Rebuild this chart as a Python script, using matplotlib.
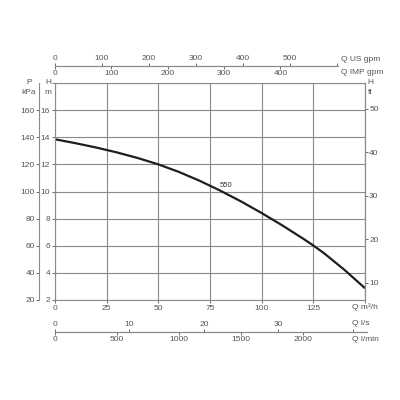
import matplotlib
matplotlib.use("Agg")
import matplotlib.pyplot as plt
import numpy as np

plt.rcParams['font.family'] = ['Liberation Sans', 'DejaVu Sans']

# kennlinie 550, Q in m3/h, H in m
q_m3h = [0, 10, 20, 30, 40, 50, 60, 70, 80, 90, 100, 110, 120, 125, 130, 140, 150]
h_m = [13.85, 13.56, 13.24, 12.88, 12.47, 12.0, 11.44, 10.79, 10.06, 9.27, 8.41, 7.50, 6.53, 6.02, 5.47, 4.23, 2.87]
curve_label = '550'

x_ticks = [0, 25, 50, 75, 100, 125]
y_ticks = [2, 4, 6, 8, 10, 12, 14, 16]
kpa_ticks = [20, 40, 60, 80, 100, 120, 140, 160]
ft_ticks = [10, 20, 30, 40, 50]
us_gpm_ticks = [0, 100, 200, 300, 400, 500, 600]
imp_gpm_ticks = [0, 100, 200, 300, 400]
ls_ticks = [0, 10, 20, 30, 40]
lmin_ticks = [0, 500, 1000, 1500, 2000]

txt = '#555555'
grid_c = '#8a8a8a'
fs = 6

fig = plt.figure(figsize=(4, 4), dpi=100)
ax = fig.add_axes([55 / 400, 100 / 400, 310 / 400, 217 / 400])

ax.plot(q_m3h, h_m, color='#1e1e1e', lw=1.6, solid_capstyle='butt', solid_joinstyle='round')
ax.text(82.7, 10.45, curve_label, fontsize=5.5, color='#333333', ha='center', va='center')

ax.set_xlim(0, 150)
ax.set_ylim(2, 18)
ax.set_xticks(x_ticks + [150])
ax.set_xticklabels([str(v) for v in x_ticks] + [''])
ax.set_yticks(y_ticks + [18])
ax.set_yticklabels([str(v) for v in y_ticks] + [''])
ax.grid(True, color=grid_c, lw=0.8)
for s in ax.spines.values():
    s.set_color(grid_c)
    s.set_linewidth(0.8)
ax.tick_params(axis='both', labelsize=fs, colors=txt, length=2, width=0.6, pad=1.5)

# Achsbeschriftungen
ax.text(-0.0226, 1.0, 'H', transform=ax.transAxes, fontsize=fs, color=txt, ha='center', va='center')
ax.text(-0.0226, 0.954, 'm', transform=ax.transAxes, fontsize=fs, color=txt, ha='center', va='center')
ax.text(-0.084, 1.0, 'P', transform=ax.transAxes, fontsize=fs, color=txt, ha='center', va='center')
ax.text(-0.084, 0.954, 'kPa', transform=ax.transAxes, fontsize=fs, color=txt, ha='center', va='center')
ax.text(1.016, 1.0, 'H', transform=ax.transAxes, fontsize=fs, color=txt, ha='center', va='center')
ax.text(1.016, 0.955, 'ft', transform=ax.transAxes, fontsize=fs, color=txt, ha='center', va='center')
ax.text(0.957, -0.031, 'Q m³/h', transform=ax.transAxes, fontsize=fs, color=txt, ha='left', va='center')
ax.text(0.957, -0.107, 'Q l/s', transform=ax.transAxes, fontsize=fs, color=txt, ha='left', va='center')
ax.text(0.957, -0.184, 'Q l/min', transform=ax.transAxes, fontsize=fs, color=txt, ha='left', va='center')
ax.text(0.9216, 1.106, 'Q US gpm', transform=ax.transAxes, fontsize=fs, color=txt, ha='left', va='center')
ax.text(0.9216, 1.0475, 'Q IMP gpm', transform=ax.transAxes, fontsize=fs, color=txt, ha='left', va='center')

# kPa links
kpa = ax.secondary_yaxis(-0.052, functions=(lambda m: m * 10, lambda p: p / 10))
kpa.set_yticks(kpa_ticks)
kpa.spines['left'].set_color(grid_c)
kpa.spines['left'].set_linewidth(0.8)
kpa.tick_params(labelsize=fs, colors=txt, length=2, width=0.6, pad=1)

# ft rechts (Skala wie im Blatt)
ft = ax.secondary_yaxis('right', functions=(lambda m: (m - 0.06) / 0.321, lambda f: 0.06 + 0.321 * f))
ft.set_yticks(ft_ticks)
ft.spines['right'].set_color(grid_c)
ft.spines['right'].set_linewidth(0.8)
ft.tick_params(labelsize=fs, colors=txt, length=2, width=0.6, pad=1)


def small_axis(loc, fwd, inv, ticks, labels, align, upto):
    sec = ax.secondary_xaxis(loc, functions=(fwd, inv))
    sec.set_alignment(align)
    sec.set_xticks(ticks, labels=labels)
    for side in ['top', 'bottom']:
        sec.spines[side].set_color(grid_c)
        sec.spines[side].set_linewidth(0.8)
        sec.spines[side].set_bounds(0, fwd(upto))
    sec.tick_params(labelsize=fs, colors=txt, length=2, width=0.6, pad=0.8)
    return sec


small_axis(1.078, lambda q: q * 4.403, lambda g: g / 4.403, us_gpm_ticks,
           [str(v) for v in us_gpm_ticks[:-1]] + [''], 'top', 137)
small_axis(1.078, lambda q: q * 3.666, lambda g: g / 3.666, imp_gpm_ticks,
           [str(v) for v in imp_gpm_ticks], 'bottom', 137)
small_axis(-0.146, lambda q: q / 3.6, lambda l: l * 3.6, ls_ticks,
           [str(v) for v in ls_ticks[:-1]] + [''], 'top', 151)
small_axis(-0.146, lambda q: q * 16.667, lambda l: l / 16.667, lmin_ticks,
           [str(v) for v in lmin_ticks], 'bottom', 151)

fig.savefig('out.png', dpi=100)
